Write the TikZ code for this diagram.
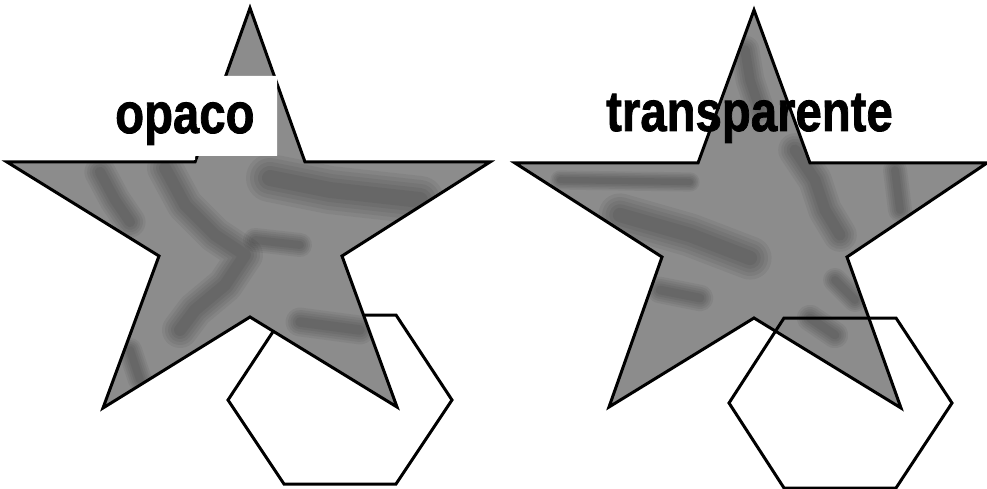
\documentclass[tikz,border=0pt]{standalone}
\usepackage{fontspec}
\setmainfont{Liberation Sans}
\newfontface\labfont[FakeBold=1.5]{Liberation Sans Bold}
\usepackage{graphicx}
\newcommand{\smudge}[2]{%
  \foreach \w in {1.2,1.0,0.8,0.6,0.4}{%
    \draw[draw=black,opacity=0.055,line cap=round,line join=round,line width=\w*#1 pt] #2;}}
\begin{document}
\begin{tikzpicture}[x=1pt,y=-1pt,
  starfill/.style={fill=black!45},
  outline/.style={draw=black,line width=3pt,line join=miter},
  label/.style={inner sep=0pt,anchor=base west,font=\fontsize{57}{60}\labfont}
]
\useasboundingbox (0,0) rectangle (987,489);
\fill[white] (0,0) rectangle (987,489);

% ---------- LEFT: opaque ----------
\draw[outline,fill=white] (284,315) -- (396,315) -- (452,400) -- (396,484) -- (284,484) -- (228,400) -- cycle;
\def\lstar{(250,8) -- (305,162) -- (490,162) -- (342,256) -- (397,407) -- (250,317) -- (103,408) -- (159,256) -- (7,162) -- (195,162) -- cycle}
\fill[starfill] \lstar;
\begin{scope}
  \clip \lstar;
  \smudge{26}{(100,172) -- (115,200) -- (130,222)}
  \smudge{30}{(165,168) -- (185,205) -- (215,235) -- (245,255) -- (225,285) -- (195,310) -- (180,330)}
  \smudge{40}{(270,178) -- (330,190) -- (420,200)}
  \smudge{24}{(300,322) -- (360,330)}
  \smudge{20}{(130,350) -- (140,380)}
  \smudge{20}{(255,240) -- (300,245)}
\end{scope}
\draw[outline] \lstar;
\fill[white] (100,76) -- (277,76) -- (277,156) -- (195,156) -- (195,160) -- (100,160) -- cycle;
\node[label] (opaco) at (115,133) {\scalebox{0.83}[1]{opaco}};

% ---------- RIGHT: transparent ----------
\def\rstar{(754,10) -- (810,163) -- (987,163) -- (847,257) -- (901,408) -- (754,318) -- (609,407) -- (662,257) -- (515,163) -- (698,163) -- cycle}
\fill[starfill] \rstar;
\begin{scope}
  \clip \rstar;
  \smudge{24}{(745,50) -- (750,80) -- (760,110)}
  \smudge{28}{(795,150) -- (815,180) -- (825,210) -- (840,235)}
  \smudge{20}{(895,170) -- (900,210)}
  \smudge{36}{(620,215) -- (690,235) -- (750,258)}
  \smudge{22}{(660,290) -- (700,298)}
  \smudge{22}{(810,318) -- (835,335)}
  \smudge{20}{(835,280) -- (855,300)}
  \smudge{16}{(560,180) -- (690,182)}
\end{scope}
\draw[outline] \rstar;
\node[label] (transp) at (606,131) {\scalebox{0.83}[1]{transparente}};
\draw[outline] (784,318) -- (896,318) -- (952,403) -- (896,488) -- (784,488) -- (729,403) -- cycle;
\end{tikzpicture}
\end{document}
